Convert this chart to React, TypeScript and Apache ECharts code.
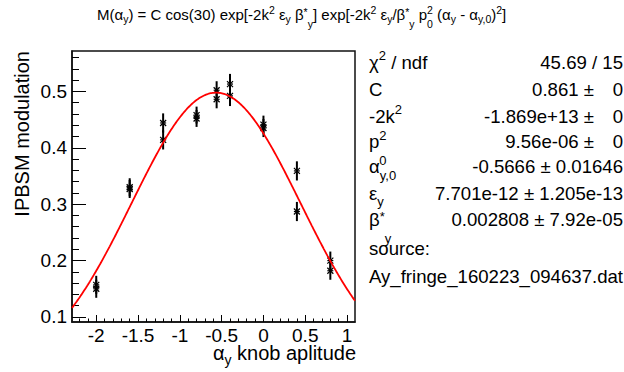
import React, { useEffect, useRef } from 'react';
import * as echarts from 'echarts';

const FONT_NAME = 'Liberation Sans';
const FONT = '"Liberation Sans", Arial, Helvetica, sans-serif';

// measured points: x (knob amplitude), y (IPBSM modulation), y error
const xValues = [-2, -2, -1.6, -1.6, -1.2, -1.2, -0.8, -0.8, -0.56, -0.56, -0.4, -0.4, 0, 0, 0.4, 0.4, 0.8, 0.8];
const yValues = [0.157, 0.150, 0.330, 0.327, 0.444, 0.414, 0.458, 0.452, 0.502, 0.486, 0.513, 0.492, 0.441, 0.435, 0.359, 0.287, 0.200, 0.182];
const yErrors = [0.016, 0.016, 0.016, 0.016, 0.017, 0.017, 0.015, 0.015, 0.016, 0.016, 0.018, 0.018, 0.016, 0.016, 0.017, 0.017, 0.016, 0.016];

// fit parameters shown in the stat box
const fitC = 0.861;
const fitCosDeg = 30;
const fitMinus2k2 = -1.869e13;
const fitP02 = 9.56e-6;
const fitAlpha0 = -0.5666;
const fitEpsY = 7.701e-12;
const fitBetaY = 0.002808;

// axes
const xRange = [-2.29, 1.095];
const yRange = [0.0911, 0.5716];
const xTickValues = [-2, -1.5, -1, -0.5, 0, 0.5, 1];
const yTickValues = [0.1, 0.2, 0.3, 0.4, 0.5];

// stat box
const statLabels = [
  '{n|χ}{sup|2}{n| / ndf}',
  '{n|C}',
  '{n|-2k}{sup|2}',
  '{n|p}{supz|2}{subl|0}',
  '{n|α}{sub|y,0}',
  '{n|ε}{sub|y}',
  '{n|β}{star|*}{subl|y}',
];
const statValues = ['45.69 / 15', '0.861 ±', '-1.869e+13 ±', '9.56e-06 ±', '-0.5666 ± 0.01646', '7.701e-12 ± 1.205e-13', '0.002808 ± 7.92e-05'];
const statZeroErr = ['', '0', '0', '0', '', '', ''];
const sourceLines = ['source:', 'Ay_fringe_160223_094637.dat'];

const titleText =
  '{n|M(α}{sub|y}{n|) = C cos(30) exp[-2k}{sup|2}{n| ε}{sub|y}{n| β}{star|*}{subl|y}{n|] exp[-2k}{sup|2}{n| ε}{sub|y}{n|/β}{star|*}{subl|y}{n| p}{supz|2}{subl|0}{n| (α}{sub|y}{n| - α}{sub|y,0}{n|)}{sup|2}{n|]}';
const xTitleText = '{n|α}{sub|y}{n| knob aplitude}';
const yTitleText = 'IPBSM modulation';

function fitCurve(n: number): number[][] {
  const amp = fitC * Math.cos((fitCosDeg * Math.PI) / 180) * Math.exp(fitMinus2k2 * fitEpsY * fitBetaY);
  const w = (fitMinus2k2 * fitEpsY / fitBetaY) * fitP02;
  const pts: number[][] = [];
  for (let i = 0; i <= n; i++) {
    const x = xRange[0] + ((xRange[1] - xRange[0]) * i) / n;
    pts.push([x, amp * Math.exp(w * (x - fitAlpha0) * (x - fitAlpha0))]);
  }
  return pts;
}

function range(a: number, b: number, step: number): number[] {
  const out: number[] = [];
  for (let v = a; v <= b + 1e-9; v += step) out.push(Math.round(v * 1000) / 1000);
  return out;
}

type Cfg = { size: Record<string, number>; off: Record<string, number> };

let measureCtx: CanvasRenderingContext2D | null = null;
function measure(text: string, size: number): number {
  if (!measureCtx) measureCtx = document.createElement('canvas').getContext('2d');
  if (!measureCtx) return text.length * size * 0.55;
  measureCtx.font = `${size}px "${FONT_NAME}"`;
  return measureCtx.measureText(text).width;
}

function layoutTokens(spec: string, x: number, yc: number, align: 'left' | 'right', cfg: Cfg): any[] {
  const re = /\{(\w+)\|([^}]*)\}/g;
  const toks: { k: string; t: string }[] = [];
  let m: RegExpExecArray | null;
  while ((m = re.exec(spec))) toks.push({ k: m[1], t: m[2] });
  const placed: { k: string; t: string; dx: number }[] = [];
  let cur = 0;
  let pending = 0;
  toks.forEach((tk) => {
    const size = cfg.size[tk.k];
    const w = measure(tk.t, size);
    placed.push({ k: tk.k, t: tk.t, dx: cur });
    if (tk.k === 'supz') {
      pending = w;
    } else {
      cur += Math.max(w, pending);
      pending = 0;
    }
  });
  cur += pending;
  const x0 = align === 'left' ? x : x - cur;
  return placed.map((p) => ({
    type: 'text',
    x: x0 + p.dx,
    y: yc + cfg.off[p.k],
    silent: true,
    style: { text: p.t, fontSize: cfg.size[p.k], fontFamily: FONT, fill: '#000', align: 'left', verticalAlign: 'middle' },
  }));
}

export default function App() {
  const ref = useRef<HTMLDivElement>(null);
  useEffect(() => {
    if (!ref.current) return;
    const chart = echarts.init(ref.current, undefined, { renderer: 'svg' });

    const titleCfg: Cfg = {
      size: { n: 15, sup: 10.5, supz: 10.5, star: 10.5, sub: 10.5, subl: 10.5 },
      off: { n: 0, sup: -4.5, supz: -4.5, star: -2.5, sub: 4.5, subl: 9 },
    };
    const statCfg: Cfg = {
      size: { n: 18.6, sup: 13, supz: 13, star: 13, sub: 13, subl: 13 },
      off: { n: 0, sup: -7, supz: -6, star: -3, sub: 8.5, subl: 19 },
    };
    const axisCfg: Cfg = {
      size: { n: 20, sub: 14 },
      off: { n: 0, sub: 7 },
    };

    const rowY = [62.8, 89.5, 116, 141, 166.7, 193.3, 219.2];
    const sourceY = [248.5, 276];

    let graphics: any[] = [];
    graphics = graphics.concat(layoutTokens(titleText, 97, 14.5, 'left', titleCfg));
    graphics = graphics.concat(layoutTokens(xTitleText, 356, 353, 'right', axisCfg));
    graphics.push({
      type: 'text', x: 22, y: 51, rotation: Math.PI / 2, silent: true,
      style: { text: yTitleText, fontSize: 20, fontFamily: FONT, fill: '#000', align: 'right', verticalAlign: 'middle' },
    });
    statLabels.forEach((lab, i) => {
      graphics = graphics.concat(layoutTokens(lab, 369, rowY[i], 'left', statCfg));
      const hasZero = statZeroErr[i] !== '';
      graphics.push({
        type: 'text', x: hasZero ? 594 : 623, y: rowY[i], silent: true,
        style: { text: statValues[i], fontSize: 18.6, fontFamily: FONT, fill: '#000', align: 'right', verticalAlign: 'middle' },
      });
      if (hasZero) {
        graphics.push({
          type: 'text', x: 623, y: rowY[i], silent: true,
          style: { text: statZeroErr[i], fontSize: 18.6, fontFamily: FONT, fill: '#000', align: 'right', verticalAlign: 'middle' },
        });
      }
    });
    sourceLines.forEach((s, i) => {
      graphics.push({
        type: 'text', x: 369, y: sourceY[i], silent: true,
        style: { text: s, fontSize: 18.6, fontFamily: FONT, fill: '#000', align: 'left', verticalAlign: 'middle' },
      });
    });

    const labelFmt = (v: number) => String(Math.round(v * 1000) / 1000);
    const xMinor = range(-2.2, 1.0, 0.1);
    const yMinor = range(0.1, 0.56, 0.02);

    const option: any = {
      animation: false,
      textStyle: { fontFamily: FONT },
      grid: {
        left: 72, top: 51, width: 283, height: 271, show: true, borderColor: '#111', borderWidth: 1.5,
        containLabel: false, outerBoundsMode: 'none',
      },
      xAxis: [
        {
          type: 'value', min: xRange[0], max: xRange[1], position: 'bottom',
          axisLine: { show: true, onZero: false, lineStyle: { color: '#111', width: 1.5 } },
          axisTick: { show: true, inside: true, length: 7, customValues: xTickValues, lineStyle: { color: '#000', width: 1 } },
          axisLabel: { show: true, customValues: xTickValues, formatter: labelFmt, color: '#000', fontSize: 19, margin: 4, fontFamily: FONT },
          splitLine: { show: false },
        },
        {
          type: 'value', min: xRange[0], max: xRange[1], position: 'bottom',
          axisLine: { show: false, onZero: false },
          axisTick: { show: true, inside: true, length: 3.5, customValues: xMinor, lineStyle: { color: '#000', width: 1 } },
          axisLabel: { show: false },
          splitLine: { show: false },
        },
      ],
      yAxis: [
        {
          type: 'value', min: yRange[0], max: yRange[1], position: 'left',
          axisLine: { show: true, onZero: false, lineStyle: { color: '#111', width: 1.5 } },
          axisTick: { show: true, inside: true, length: 14, customValues: yTickValues, lineStyle: { color: '#000', width: 1 } },
          axisLabel: { show: true, customValues: yTickValues, formatter: labelFmt, color: '#000', fontSize: 19, margin: 5, fontFamily: FONT },
          splitLine: { show: false },
        },
        {
          type: 'value', min: yRange[0], max: yRange[1], position: 'left',
          axisLine: { show: false, onZero: false },
          axisTick: { show: true, inside: true, length: 7, customValues: yMinor, lineStyle: { color: '#000', width: 1 } },
          axisLabel: { show: false },
          splitLine: { show: false },
        },
      ],
      graphic: graphics,
      series: [
        {
          type: 'custom',
          xAxisIndex: 0, yAxisIndex: 0,
          data: xValues.map((x, i) => [x, yValues[i], yErrors[i]]),
          encode: { x: 0, y: 1 },
          renderItem: (params: any, api: any) => {
            const x = api.value(0), y = api.value(1), e = api.value(2);
            const c = api.coord([x, y]);
            const top = api.coord([x, y + e]);
            const bot = api.coord([x, y - e]);
            const s = 3;
            const st = { stroke: '#000', lineWidth: 1.2 };
            return {
              type: 'group',
              children: [
                { type: 'line', shape: { x1: c[0], y1: top[1], x2: c[0], y2: bot[1] }, style: { stroke: '#000', lineWidth: 2 } },
                { type: 'line', shape: { x1: c[0] - s, y1: c[1] - s, x2: c[0] + s, y2: c[1] + s }, style: st },
                { type: 'line', shape: { x1: c[0] - s, y1: c[1] + s, x2: c[0] + s, y2: c[1] - s }, style: st },
                { type: 'line', shape: { x1: c[0] - s, y1: c[1], x2: c[0] + s, y2: c[1] }, style: st },
              ],
            };
          },
          z: 2,
        },
        {
          type: 'line',
          xAxisIndex: 0, yAxisIndex: 0,
          data: fitCurve(300),
          showSymbol: false,
          symbol: 'none',
          lineStyle: { color: '#ff0000', width: 1.8 },
          itemStyle: { color: '#ff0000' },
          clip: true,
          z: 3,
        },
      ],
    };
    chart.setOption(option);
    return () => chart.dispose();
  }, []);
  return <div ref={ref} style={{ position: 'fixed', left: 0, top: 0, width: 624, height: 372, background: '#fff' }} />;
}
